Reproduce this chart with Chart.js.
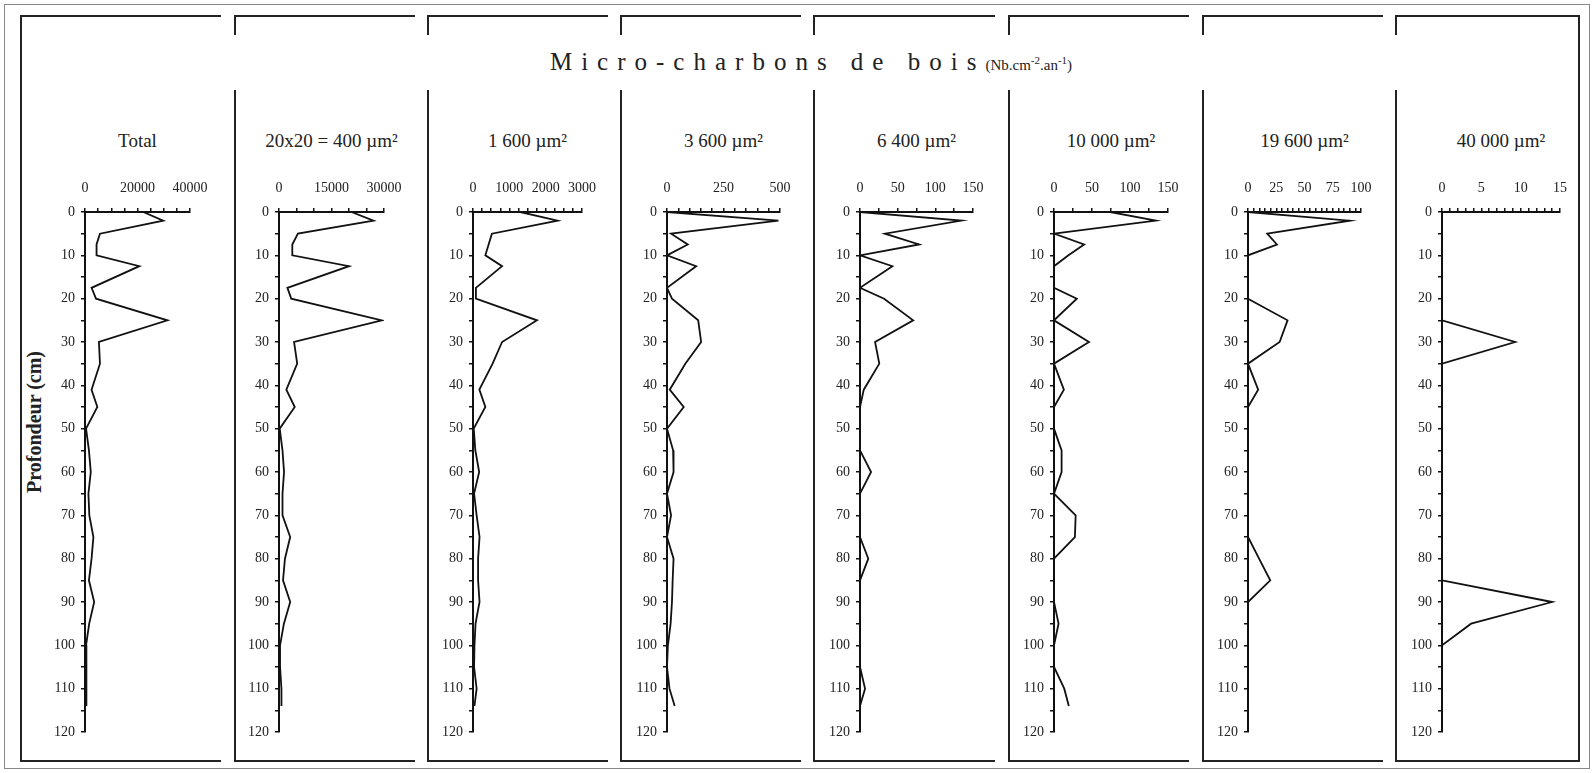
<!DOCTYPE html>
<html>
<head>
<meta charset="utf-8">
<script src="https://cdn.jsdelivr.net/npm/chart.js@4/dist/chart.umd.min.js"></script>
<style>
  body { margin: 0; background: #fff; }
  #page { position: relative; width: 1594px; height: 773px; overflow: hidden; font-family: "Liberation Serif", serif; color: #222; }
  .ln { position: absolute; background: #222; }
  .ptitle { position: absolute; top: 130px; font-size: 19px; white-space: nowrap; transform: translateX(-50%); }
  canvas { position: absolute; }
</style>
</head>
<body>
<div id="page">
  <div id="maintitle" style="position:absolute;left:811px;top:48px;transform:translateX(-50%);white-space:nowrap;">
    <span style="font-size:25px;letter-spacing:9px;">Micro-charbons de bois</span><span style="font-size:15px;">(Nb.cm<sup style="font-size:11px">-2</sup>.an<sup style="font-size:11px">-1</sup>)</span>
  </div>
  <div style="position:absolute;left:34px;top:422px;transform:translate(-50%,-50%) rotate(-90deg);font-weight:bold;font-size:20px;white-space:nowrap;">Profondeur (cm)</div>
</div>
<script>
// depth of each sample (cm)
const depths = [0, 2, 5, 7.5, 10, 12.5, 17.5, 20, 25, 30, 35, 41, 45, 50, 55, 60, 65, 70, 75, 80, 85, 90, 95, 100, 105, 110, 114];

// micro-charcoal influx per size class (Nb.cm-2.an-1)
const total   = [22200, 29800, 5700, 4400, 4400, 20700, 2500, 4200, 31400, 5300, 5700, 2500, 4700, 400, 1500, 2200, 1300, 1650, 3200, 2500, 1500, 3500, 1600, 400, 400, 600, 600];
const s400    = [20700, 27000, 5400, 3800, 3800, 20000, 2400, 3500, 29400, 4300, 5200, 2100, 4500, 200, 1000, 1440, 1000, 1000, 3200, 1700, 1150, 3200, 1400, 300, 300, 700, 700];
const s1600   = [1300, 2330, 520, 430, 340, 800, 80, 80, 1760, 800, 540, 175, 340, 20, 65, 170, 30, 100, 180, 140, 140, 180, 70, 40, 30, 100, 40];
const s3600   = [0, 493, 18, 92, 0, 129, 0, 22, 138, 151, 81, 12, 74, 0, 27, 29, 0, 18, 0, 29, 25, 22, 16, 4, 0, 11, 34];
const s6400   = [0, 134.5, 33, 78.5, 0, 43, 0, 32, 70.6, 20, 25.6, 5, 0, 0, 0, 14.7, 0, 0, 0, 11, 0, 0, 0, 0, 0, 6.7, 0];
const s10000  = [74, 134, 0, 39.6, 19, 0, 0, 30, 0, 46, 0, 13, 0, 0, 10, 10, 0, 28.5, 27.5, 0, 0, 0, 6, 0, 0, 13.5, 19.5];
const s19600  = [0, 90, 17, 25.6, 0, 0, 0, 0, 35, 28, 0, 9, 0, 0, 0, 0, 0, 0, 0, 9.8, 19.7, 0, 0, 0, 0, 0, 0];
const s40000  = [0, 0, 0, 0, 0, 0, 0, 0, 0, 9.3, 0, 0, 0, 0, 0, 0, 0, 0, 0, 0, 0, 14, 3.7, 0, 0, 0, 0];

const panelTitles = ['Total', '20x20 = 400 µm²', '1 600 µm²', '3 600 µm²', '6 400 µm²', '10 000 µm²', '19 600 µm²', '40 000 µm²'];
const panelSeries = [total, s400, s1600, s3600, s6400, s10000, s19600, s40000];
const axisMax   = [40000, 30000, 3000, 500, 150, 150, 100, 15];
const minorStep = [5000, 5000, 250, 50, 25, 25, 5, 1];
const majorStep = [20000, 15000, 1000, 250, 50, 50, 25, 5];

// layout (pixels)
const origins = [85, 279, 473, 667, 860, 1054, 1248, 1442];
const axisLen = [105, 105, 109, 113, 113, 114, 113, 118];
const boxLeft = [20, 234, 427, 620, 813, 1008, 1202, 1395];
const boxRight = [221, 415, 608, 801, 995, 1189, 1383, 1578];
const Y0 = 212, PLOT_H = 520, LEFT_W = 45, TOP_H = 45;

const page = document.getElementById('page');

function line(x, y, w, h, color) {
    const d = document.createElement('div');
    d.className = 'ln';
    d.style.left = x + 'px'; d.style.top = y + 'px';
    d.style.width = w + 'px'; d.style.height = h + 'px';
    if (color) d.style.background = color;
    page.appendChild(d);
}

// outer frame
line(4, 4, 1586, 1, '#888'); line(4, 768, 1586, 1, '#888');
line(4, 4, 1, 765, '#888'); line(1589, 4, 1, 765, '#888');

// panel boxes
boxLeft.forEach((bl, i) => {
    const br = boxRight[i];
    line(bl, 15, br - bl, 2);
    line(bl, 760, br - bl, 2);
    if (i === 0) {
        line(bl, 15, 2, 747);
    } else {
        line(bl, 15, 2, 20);
        line(bl, 90, 2, 672);
    }
    if (i === boxLeft.length - 1) line(br, 15, 2, 747);
});

const tickFont = { family: 'Liberation Serif', size: 14 };

panelSeries.forEach((series, i) => {
    const t = document.createElement('div');
    t.className = 'ptitle';
    t.style.left = (origins[i] + axisLen[i] / 2) + 'px';
    t.textContent = panelTitles[i];
    page.appendChild(t);

    const cw = LEFT_W + axisLen[i] + 30;
    const ch = TOP_H + PLOT_H + 20;
    const cv = document.createElement('canvas');
    cv.width = cw; cv.height = ch;
    cv.style.width = cw + 'px'; cv.style.height = ch + 'px';
    cv.style.left = (origins[i] - LEFT_W) + 'px';
    cv.style.top = (Y0 - TOP_H) + 'px';
    page.appendChild(cv);

    const major = majorStep[i];
    new Chart(cv, {
        type: 'scatter',
        data: {
            datasets: [{
                data: depths.map((d, k) => ({ x: series[k], y: d })),
                showLine: true,
                borderColor: '#111',
                borderWidth: 1.8,
                pointRadius: 0,
                tension: 0
            }]
        },
        options: {
            responsive: false,
            animation: false,
            layout: { padding: { left: 0, right: 30, top: 0, bottom: 20 } },
            plugins: { legend: { display: false }, tooltip: { enabled: false } },
            scales: {
                x: {
                    type: 'linear', position: 'top', min: 0, max: axisMax[i],
                    afterFit: s => { s.height = TOP_H; },
                    ticks: {
                        stepSize: minorStep[i], autoSkip: false, maxTicksLimit: 100, maxRotation: 0,
                        padding: 11, font: tickFont, color: '#222',
                        callback: v => (v % major === 0 ? String(v) : '')
                    },
                    grid: { drawOnChartArea: false, tickLength: 4, color: '#111', lineWidth: 1.5 },
                    border: { color: '#111', width: 2 }
                },
                y: {
                    type: 'linear', reverse: true, min: 0, max: 120,
                    afterFit: s => { s.width = LEFT_W; },
                    ticks: {
                        stepSize: 5, autoSkip: false, maxTicksLimit: 100,
                        padding: 6, font: tickFont, color: '#222',
                        callback: v => (v % 10 === 0 ? String(v) : '')
                    },
                    grid: { drawOnChartArea: false, tickLength: 4, color: '#111', lineWidth: 1.5 },
                    border: { color: '#111', width: 2 }
                }
            }
        }
    });
});
</script>
</body>
</html>
